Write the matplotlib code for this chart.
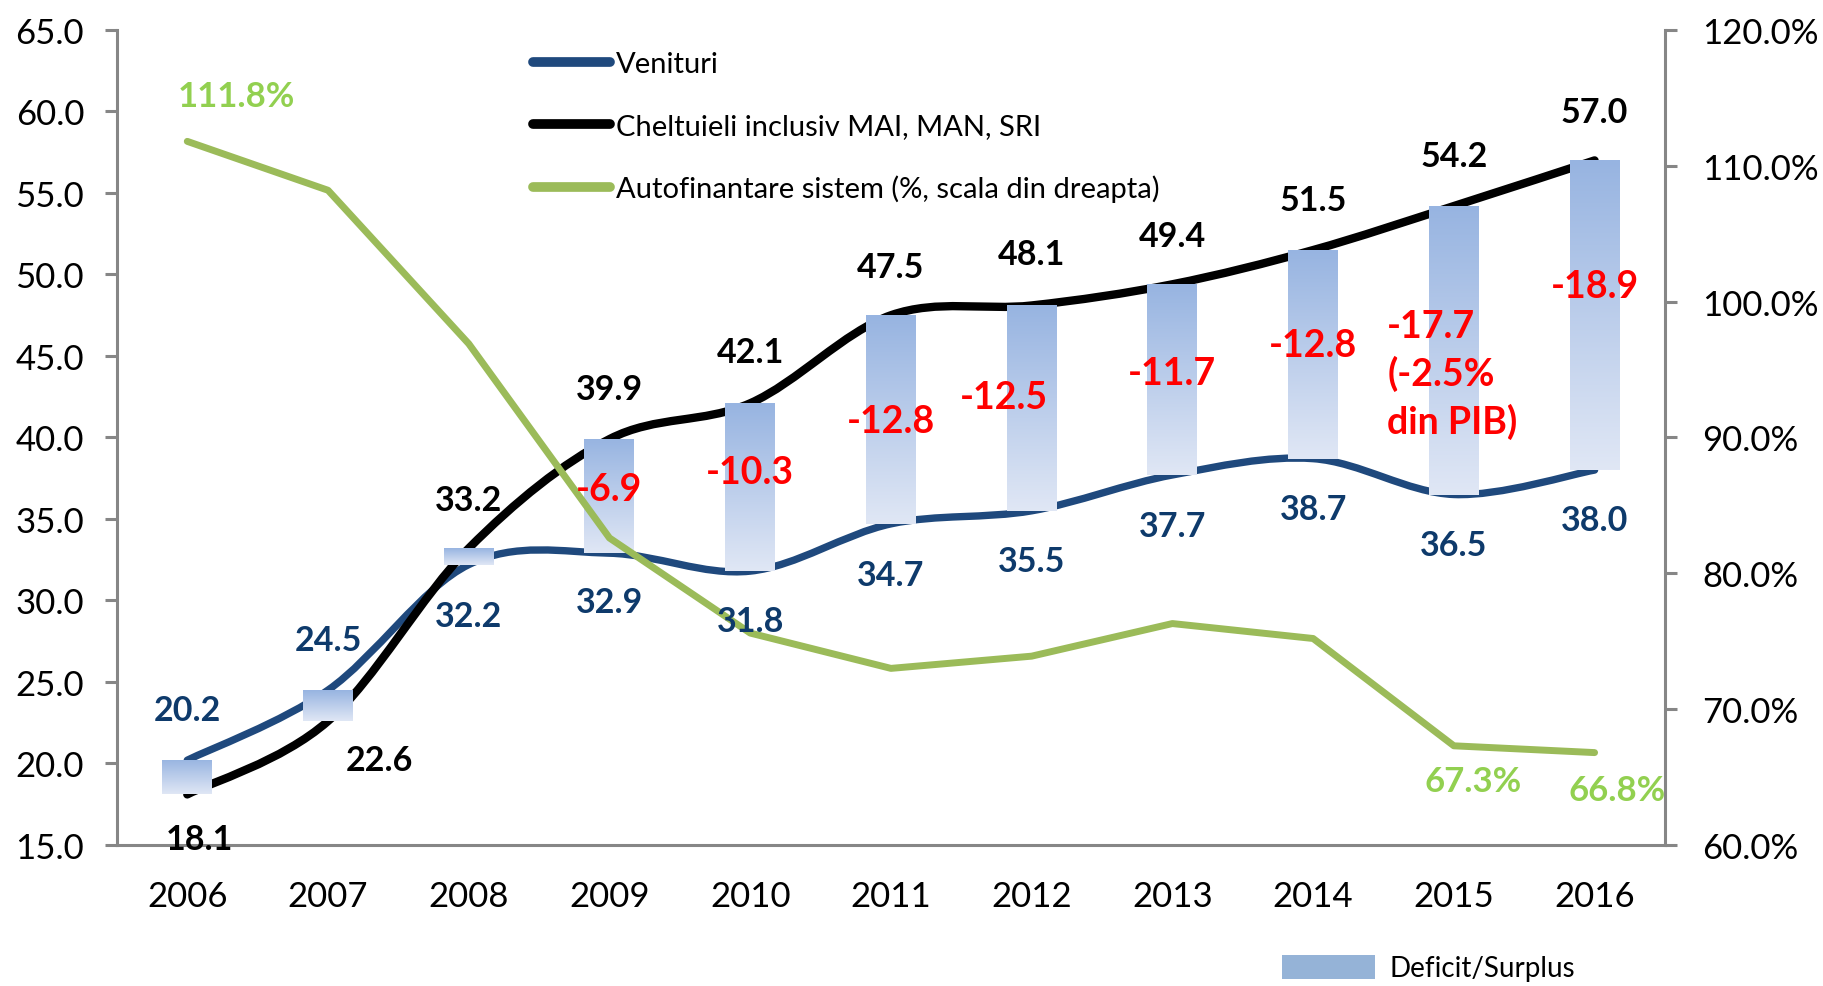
import numpy as np
import matplotlib
matplotlib.use('Agg')
import matplotlib.pyplot as plt
from matplotlib.path import Path
from matplotlib.patches import PathPatch, Patch
from matplotlib.lines import Line2D
from matplotlib.colors import LinearSegmentedColormap

plt.rcParams['font.family'] = ['Lato', 'DejaVu Sans']

# Date (mld. lei)
ani = ['2006', '2007', '2008', '2009', '2010', '2011', '2012', '2013', '2014', '2015', '2016']
venituri = [20.2, 24.5, 32.2, 32.9, 31.8, 34.7, 35.5, 37.7, 38.7, 36.5, 38.0]
cheltuieli = [18.1, 22.6, 33.2, 39.9, 42.1, 47.5, 48.1, 49.4, 51.5, 54.2, 57.0]
autofinantare = [111.8, 108.2, 96.9, 82.6, 75.6, 73.0, 73.9, 76.3, 75.2, 67.3, 66.8]  # %
deficit_etichete = ['', '', '', '-6.9', '-10.3', '-12.8', '-12.5', '-11.7', '-12.8',
                    '-17.7\n(-2.5%\ndin PIB)', '-18.9']
autofin_etichete = ['111.8%', '', '', '', '', '', '', '', '', '67.3%', '66.8%']

ticks_stanga = np.arange(15, 66, 5)
ticks_dreapta = np.arange(60, 121, 10)

# decalaje etichete (puncte)
off_ven = [(0, 36), (0, 36), (0, -37), (0, -35), (0, -36), (0, -37), (0, -36), (0, -37), (0, -36), (0, -36), (0, -36)]
off_ch = [(9, -32), (37, -28), (0, 35), (0, 36), (0, 37), (0, 35), (0, 37), (0, 35), (0, 36), (0, 36), (0, 35)]
off_def = [(0, 0), (0, 0), (0, 0), (0, 5), (0, 11), (0, -1), (-20, 8), (0, 5), (0, 7), (-48, -17), (0, 21)]
off_af = [(35, 33), (0, 0), (0, 0), (0, 0), (0, 0), (0, 0), (0, 0), (0, 0), (0, 0), (14, -25), (16, -27)]

C_VEN = '#1F497D'
C_VEN_TXT = '#0E3A6B'
C_CH = 'black'
C_AF = '#9BBB59'
C_AF_TXT = '#92D050'
C_AX = '#868686'


def curba_neteda(xs, ys):
    """Path Bezier (ca liniile 'smooth' din Excel)."""
    p = np.column_stack([xs, ys]).astype(float)
    n = len(p)
    verts = [p[0]]
    codes = [Path.MOVETO]
    for i in range(n - 1):
        p0 = p[i - 1] if i > 0 else p[i]
        p3 = p[i + 2] if i + 2 < n else p[i + 1]
        c1 = p[i] + (p[i + 1] - p0) / 6
        c2 = p[i + 1] - (p3 - p[i]) / 6
        verts += [c1, c2, p[i + 1]]
        codes += [Path.CURVE4] * 3
    return Path(verts, codes)


x = np.arange(len(ani))

fig = plt.figure(figsize=(18.24, 9.87), dpi=100)
ax = fig.add_axes([0.0641, 0.1429, 0.8487, 0.8257])
ax2 = ax.twinx()

# linii netezite
ax.add_patch(PathPatch(curba_neteda(x, venituri), facecolor='none', edgecolor=C_VEN,
                       lw=5.3, capstyle='round', joinstyle='round', zorder=2))
ax.add_patch(PathPatch(curba_neteda(x, cheltuieli), facecolor='none', edgecolor=C_CH,
                       lw=6, capstyle='round', joinstyle='round', zorder=2))

# bare deficit/surplus cu gradient
cmap = LinearSegmentedColormap.from_list('grad', ['#E0E7F5', '#97B4E1'])
grad = np.linspace(0, 1, 256).reshape(-1, 1)
w = 0.355
lo = np.minimum(venituri, cheltuieli)
hi = np.maximum(venituri, cheltuieli)
bare = ax.bar(x, hi - lo, bottom=lo, width=w, color='none', zorder=3)
for b in bare:
    x0, y0 = b.get_x(), b.get_y()
    im = ax.imshow(grad, extent=[x0, x0 + b.get_width(), y0, y0 + b.get_height()],
                   origin='lower', aspect='auto', cmap=cmap, zorder=3)
    im.set_clip_path(b)

ax.set_xlim(-0.5, 10.5)
ax.set_ylim(15, 65)
ax.set_yticks(ticks_stanga)
ax.set_yticklabels([f'{v:.1f}' for v in ticks_stanga])
ax.set_xticks(x)
ax.set_xticklabels(ani)

# autofinantare (axa dreapta)
ax2.plot(x, autofinantare, color=C_AF, lw=5, solid_capstyle='round', solid_joinstyle='round', zorder=4)
ax2.set_ylim(60, 120)
ax2.set_yticks(ticks_dreapta)
ax2.set_yticklabels([f'{v:.1f}%' for v in ticks_dreapta])

for a in (ax, ax2):
    a.spines['top'].set_visible(False)
    for s in a.spines.values():
        s.set_color(C_AX)
        s.set_linewidth(2.2)
ax.spines['right'].set_visible(False)
ax2.spines['left'].set_visible(False)
ax2.spines['bottom'].set_visible(False)

ax.tick_params(axis='y', direction='out', length=8.6, width=2.2, color=C_AX, pad=15, labelsize=25)
ax.tick_params(axis='x', length=0, pad=25, labelsize=25)
ax2.tick_params(axis='y', direction='out', length=8.6, width=2.2, color=C_AX, pad=18, labelsize=25)

# etichete
for i in x:
    ax2.annotate(f'{venituri[i]:.1f}', (i, venituri[i]), xycoords=ax.transData,
                 xytext=off_ven[i], textcoords='offset points', ha='center', va='center',
                 fontsize=24.5, fontweight='bold', color=C_VEN_TXT, zorder=6)
    ax2.annotate(f'{cheltuieli[i]:.1f}', (i, cheltuieli[i]), xycoords=ax.transData,
                 xytext=off_ch[i], textcoords='offset points', ha='center', va='center',
                 fontsize=24.5, fontweight='bold', color='black', zorder=6)
    if deficit_etichete[i]:
        mid = (venituri[i] + cheltuieli[i]) / 2
        ha = 'left' if '\n' in deficit_etichete[i] else 'center'
        ax2.annotate(deficit_etichete[i], (i, mid), xycoords=ax.transData,
                     xytext=off_def[i], textcoords='offset points', ha=ha, va='center',
                     fontsize=27, fontweight='bold', color='red', linespacing=1.4, zorder=6)
    if autofin_etichete[i]:
        ax2.annotate(autofin_etichete[i], (i, autofinantare[i]),
                     xytext=off_af[i], textcoords='offset points', ha='center', va='center',
                     fontsize=25, fontweight='bold', color=C_AF_TXT, zorder=6)

# legende
h = [Line2D([], [], color=C_VEN, lw=7, solid_capstyle='round'),
     Line2D([], [], color=C_CH, lw=7, solid_capstyle='round'),
     Line2D([], [], color=C_AF, lw=7, solid_capstyle='round')]
fig.legend(h, ['Venituri', 'Cheltuieli inclusiv MAI, MAN, SRI',
               'Autofinantare sistem (%, scala din dreapta)'],
           loc='upper left', bbox_to_anchor=(0.292, 0.947), frameon=False, fontsize=21,
           handlelength=2.67, handletextpad=0.18, labelspacing=1.22, borderpad=0, borderaxespad=0)
fig.legend([Patch(facecolor='#95B3D7')], ['Deficit/Surplus'], loc='center left',
           bbox_to_anchor=(0.703, 1 - 969 / 987), frameon=False, fontsize=20,
           handlelength=3.35, handleheight=0.94, handletextpad=0.5, borderpad=0, borderaxespad=0)

fig.savefig('out.png', dpi=100)
